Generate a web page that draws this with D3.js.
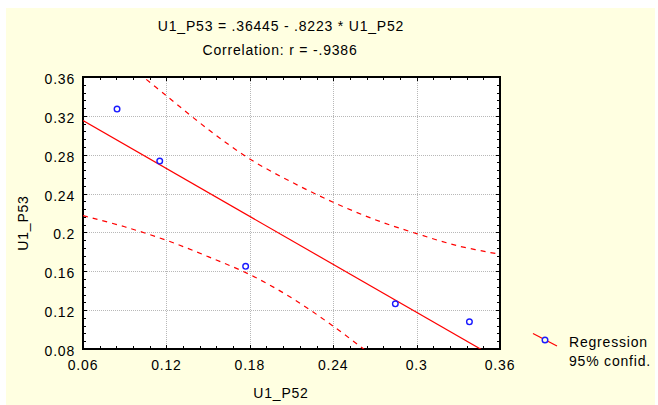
<!DOCTYPE html>
<html>
<head>
<meta charset="utf-8">
<script src="https://cdn.jsdelivr.net/npm/d3@7"></script>
<style>
  html, body { margin: 0; padding: 0; background: #ffffff; }
  svg { display: block; }
  text { font-family: "Liberation Sans", Arial, sans-serif; font-size: 14px; fill: #000; letter-spacing: 0.8px; }
</style>
</head>
<body>
<script>
// Scatter observations
const p52 = [0.0845, 0.1152, 0.177, 0.2847, 0.338];
const p53 = [0.327, 0.2735, 0.1651, 0.1265, 0.108];

// Fitted line coefficients (U1_P53 = a + b * U1_P52)
const intercept = 0.36445;
const slope = -0.8223;
const correlation = "-.9386";

// 95% confidence band, upper and lower curves
const upperX = [0.10, 0.12, 0.15, 0.18, 0.21, 0.24, 0.27, 0.30, 0.33, 0.36];
const upperY = [0.364, 0.3407, 0.3062, 0.2756, 0.2519, 0.2311, 0.2132, 0.1988, 0.1861, 0.1775];
const lowerX = [0.06, 0.09, 0.12, 0.15, 0.18, 0.21, 0.24, 0.27];
const lowerY = [0.2173, 0.2058, 0.1919, 0.1751, 0.1566, 0.1327, 0.1035, 0.0711];

// Axis ticks
const xTicks = [0.06, 0.12, 0.18, 0.24, 0.30, 0.36];
const xTickLabels = ["0.06", "0.12", "0.18", "0.24", "0.3", "0.36"];
const yTicks = [0.08, 0.12, 0.16, 0.20, 0.24, 0.28, 0.32, 0.36];
const yTickLabels = ["0.08", "0.12", "0.16", "0.2", "0.24", "0.28", "0.32", "0.36"];

const W = 658, H = 405;
const plotL = 83, plotR = 500, plotT = 77, plotB = 349;

const svg = d3.select("body").append("svg").attr("width", W).attr("height", H);

// pale yellow panel
svg.append("rect").attr("x", 6).attr("y", 8).attr("width", 649).attr("height", 397).attr("fill", "#ffffe1");

const x = d3.scaleLinear().domain([0.06, 0.36]).range([plotL, plotR]);
const y = d3.scaleLinear().domain([0.08, 0.36]).range([plotB, plotT]);

svg.append("rect").attr("x", plotL).attr("y", plotT).attr("width", plotR - plotL).attr("height", plotB - plotT).attr("fill", "#ffffff");

svg.append("clipPath").attr("id", "plotClip")
  .append("rect").attr("x", plotL).attr("y", plotT).attr("width", plotR - plotL).attr("height", plotB - plotT);

// dotted grid
const grid = svg.append("g").attr("stroke", "#b8b8b8").attr("stroke-width", 1).attr("stroke-dasharray", "1,1");
grid.selectAll("line.gx").data(xTicks.slice(1, -1)).join("line")
  .attr("x1", d => Math.round(x(d)) + 0.5).attr("x2", d => Math.round(x(d)) + 0.5)
  .attr("y1", plotT).attr("y2", plotB);
grid.selectAll("line.gy").data(yTicks.slice(1, -1)).join("line")
  .attr("y1", d => Math.round(y(d)) + 0.5).attr("y2", d => Math.round(y(d)) + 0.5)
  .attr("x1", plotL).attr("x2", plotR);

// inward tick marks on all four sides (5 subdivisions per major step)
const xMinor = d3.range(0, 26).map(i => 0.06 + i * 0.012);
const yMinor = d3.range(0, 36).map(i => 0.08 + i * 0.008);
const ticks = svg.append("g").attr("stroke", "#000").attr("stroke-width", 1);
xMinor.forEach((v, i) => {
  const len = i % 5 === 0 ? 4 : 3;
  const px = Math.round(x(v)) + 0.5;
  ticks.append("line").attr("x1", px).attr("x2", px).attr("y1", plotB).attr("y2", plotB - len);
  ticks.append("line").attr("x1", px).attr("x2", px).attr("y1", plotT).attr("y2", plotT + len);
});
yMinor.forEach((v, i) => {
  const len = i % 5 === 0 ? 4 : 3;
  const py = Math.round(y(v)) + 0.5;
  ticks.append("line").attr("y1", py).attr("y2", py).attr("x1", plotL).attr("x2", plotL + len);
  ticks.append("line").attr("y1", py).attr("y2", py).attr("x1", plotR).attr("x2", plotR - len);
});

// frame
svg.append("rect").attr("x", plotL).attr("y", plotT).attr("width", plotR - plotL).attr("height", plotB - plotT)
  .attr("fill", "none").attr("stroke", "#000").attr("stroke-width", 2);

// tick labels
svg.append("g").selectAll("text").data(xTicks).join("text")
  .attr("x", d => x(d)).attr("y", 370).attr("text-anchor", "middle")
  .text((d, i) => xTickLabels[i]);
svg.append("g").selectAll("text").data(yTicks).join("text")
  .attr("x", 75).attr("y", d => y(d) + 7).attr("text-anchor", "end")
  .text((d, i) => yTickLabels[i]);

// lines
const plot = svg.append("g").attr("clip-path", "url(#plotClip)");
const lineGen = d3.line().x(d => x(d[0])).y(d => y(d[1]));
const bandGen = d3.line().x(d => x(d[0])).y(d => y(d[1])).curve(d3.curveCatmullRom);

plot.append("path")
  .datum([[0.06, intercept + slope * 0.06], [0.36, intercept + slope * 0.36]])
  .attr("d", lineGen).attr("fill", "none").attr("stroke", "#ff0000").attr("stroke-width", 1.2);

plot.append("path").datum(upperX.map((v, i) => [v, upperY[i]]))
  .attr("d", bandGen).attr("fill", "none").attr("stroke", "#ff0000").attr("stroke-width", 1.2)
  .attr("stroke-dasharray", "5,5");
plot.append("path").datum(lowerX.map((v, i) => [v, lowerY[i]]))
  .attr("d", bandGen).attr("fill", "none").attr("stroke", "#ff0000").attr("stroke-width", 1.2)
  .attr("stroke-dasharray", "5,5");

// points
plot.selectAll("circle").data(p52).join("circle")
  .attr("cx", d => x(d)).attr("cy", (d, i) => y(p53[i])).attr("r", 2.8)
  .attr("fill", "none").attr("stroke", "#1a1aff").attr("stroke-width", 1.4);

// titles
svg.append("text").attr("x", 281).attr("y", 31).attr("text-anchor", "middle")
  .text(`U1_P53 = ${String(intercept).replace(/^0/, "")} - ${String(-slope).replace(/^0/, "")} * U1_P52`);
svg.append("text").attr("x", 280).attr("y", 55).attr("text-anchor", "middle")
  .text(`Correlation: r = ${correlation}`);
svg.append("text").attr("x", 281).attr("y", 398).attr("text-anchor", "middle").text("U1_P52");
svg.append("text").attr("transform", "translate(27.5,223) rotate(-90)").attr("text-anchor", "middle").text("U1_P53");

// legend
const lg = svg.append("g");
lg.append("line").attr("x1", 533).attr("y1", 333.5).attr("x2", 557).attr("y2", 346)
  .attr("stroke", "#ff0000").attr("stroke-width", 1.2);
lg.append("circle").attr("cx", 545).attr("cy", 340).attr("r", 2.8)
  .attr("fill", "#ffffe1").attr("stroke", "#1a1aff").attr("stroke-width", 1.4);
lg.append("text").attr("x", 569).attr("y", 346.5).text("Regression");
lg.append("text").attr("x", 569).attr("y", 366).text("95% confid.");
</script>
</body>
</html>
